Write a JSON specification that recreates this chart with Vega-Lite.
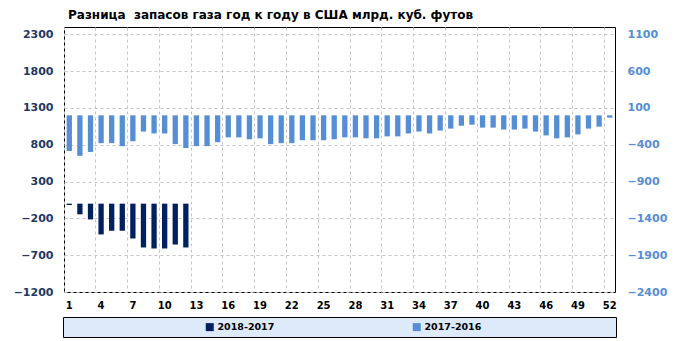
{
  "$schema": "https://vega.github.io/schema/vega-lite/v6.json",
  "width": 551,
  "height": 265,
  "autosize": {"type": "none"},
  "padding": {"left": 64, "top": 27, "right": 67, "bottom": 49},
  "background": "white",
  "title": {
    "text": "Разница\u00a0 запасов газа год к году в США млрд. куб. футов",
    "anchor": "start",
    "frame": "group",
    "dx": 4,
    "offset": -4,
    "baseline": "alphabetic",
    "font": "DejaVu Sans",
    "fontSize": 12,
    "fontWeight": "bold",
    "color": "black"
  },
  "config": {
    "view": {"stroke": "black", "strokeWidth": 1, "fill": "white"},
    "axis": {"labelFont": "DejaVu Sans", "labelFontWeight": "bold", "domain": false, "ticks": false, "labelOverlap": false}
  },
  "data": {
    "values": [
      {"w": 1, "s": "2018-2017", "v": -18},
      {"w": 2, "s": "2018-2017", "v": -145},
      {"w": 3, "s": "2018-2017", "v": -214},
      {"w": 4, "s": "2018-2017", "v": -418},
      {"w": 5, "s": "2018-2017", "v": -368},
      {"w": 6, "s": "2018-2017", "v": -368},
      {"w": 7, "s": "2018-2017", "v": -473},
      {"w": 8, "s": "2018-2017", "v": -595},
      {"w": 9, "s": "2018-2017", "v": -609},
      {"w": 10, "s": "2018-2017", "v": -609},
      {"w": 11, "s": "2018-2017", "v": -555},
      {"w": 12, "s": "2018-2017", "v": -595},
      {"w": 1, "s": "2017-2016", "v": -484},
      {"w": 2, "s": "2017-2016", "v": -550},
      {"w": 3, "s": "2017-2016", "v": -497},
      {"w": 4, "s": "2017-2016", "v": -378},
      {"w": 5, "s": "2017-2016", "v": -378},
      {"w": 6, "s": "2017-2016", "v": -418},
      {"w": 7, "s": "2017-2016", "v": -352},
      {"w": 8, "s": "2017-2016", "v": -220},
      {"w": 9, "s": "2017-2016", "v": -246},
      {"w": 10, "s": "2017-2016", "v": -246},
      {"w": 11, "s": "2017-2016", "v": -391},
      {"w": 12, "s": "2017-2016", "v": -444},
      {"w": 13, "s": "2017-2016", "v": -418},
      {"w": 14, "s": "2017-2016", "v": -418},
      {"w": 15, "s": "2017-2016", "v": -365},
      {"w": 16, "s": "2017-2016", "v": -299},
      {"w": 17, "s": "2017-2016", "v": -299},
      {"w": 18, "s": "2017-2016", "v": -325},
      {"w": 19, "s": "2017-2016", "v": -312},
      {"w": 20, "s": "2017-2016", "v": -391},
      {"w": 21, "s": "2017-2016", "v": -378},
      {"w": 22, "s": "2017-2016", "v": -378},
      {"w": 23, "s": "2017-2016", "v": -338},
      {"w": 24, "s": "2017-2016", "v": -338},
      {"w": 25, "s": "2017-2016", "v": -338},
      {"w": 26, "s": "2017-2016", "v": -325},
      {"w": 27, "s": "2017-2016", "v": -299},
      {"w": 28, "s": "2017-2016", "v": -299},
      {"w": 29, "s": "2017-2016", "v": -312},
      {"w": 30, "s": "2017-2016", "v": -312},
      {"w": 31, "s": "2017-2016", "v": -286},
      {"w": 32, "s": "2017-2016", "v": -286},
      {"w": 33, "s": "2017-2016", "v": -246},
      {"w": 34, "s": "2017-2016", "v": -220},
      {"w": 35, "s": "2017-2016", "v": -246},
      {"w": 36, "s": "2017-2016", "v": -207},
      {"w": 37, "s": "2017-2016", "v": -180},
      {"w": 38, "s": "2017-2016", "v": -141},
      {"w": 39, "s": "2017-2016", "v": -127},
      {"w": 40, "s": "2017-2016", "v": -167},
      {"w": 41, "s": "2017-2016", "v": -167},
      {"w": 42, "s": "2017-2016", "v": -193},
      {"w": 43, "s": "2017-2016", "v": -193},
      {"w": 44, "s": "2017-2016", "v": -180},
      {"w": 45, "s": "2017-2016", "v": -220},
      {"w": 46, "s": "2017-2016", "v": -273},
      {"w": 47, "s": "2017-2016", "v": -312},
      {"w": 48, "s": "2017-2016", "v": -299},
      {"w": 49, "s": "2017-2016", "v": -259},
      {"w": 50, "s": "2017-2016", "v": -180},
      {"w": 51, "s": "2017-2016", "v": -154},
      {"w": 52, "s": "2017-2016", "v": -31}
    ]
  },
  "encoding": {
    "x": {
      "field": "w",
      "type": "ordinal",
      "scale": {"paddingInner": 0, "paddingOuter": 0},
      "axis": {
        "title": null,
        "values": [1, 4, 7, 10, 13, 16, 19, 22, 25, 28, 31, 34, 37, 40, 43, 46, 49, 52],
        "bandPosition": 0,
        "labelAngle": 0,
        "labelFontSize": 10,
        "labelColor": "black",
        "labelPadding": 8,
        "grid": true,
        "gridDash": [3, 3],
        "gridColor": "#c4c4c4"
      }
    },
    "color": {
      "field": "s",
      "type": "nominal",
      "scale": {"domain": ["2018-2017", "2017-2016"], "range": ["#002060", "#558ed5"]},
      "legend": {
        "title": "\u00a0",
        "titleOrient": "right",
        "titlePadding": 130,
        "titleFontSize": 9,
        "orient": "none",
        "direction": "horizontal",
        "legendX": -1,
        "legendY": 290,
        "fillColor": "#dceafa",
        "strokeColor": "black",
        "padding": 5,
        "symbolType": "square",
        "symbolSize": 64,
        "symbolStrokeWidth": 0,
        "symbolOpacity": 1,
        "symbolOffset": 137,
        "columnPadding": 0,
        "labelFont": "DejaVu Sans",
        "labelFontWeight": "bold",
        "labelFontSize": 9.5,
        "labelColor": "black",
        "labelOffset": 3
      }
    }
  },
  "layer": [
    {
      "layer": [
        {
          "transform": [{"filter": "datum.s == '2018-2017'"}],
          "mark": {"type": "bar", "width": {"band": 0.5}}
        },
        {
          "mark": {"type": "rule", "color": "black", "strokeWidth": 1},
          "encoding": {"y": {"datum": 0, "type": "quantitative"}, "color": {"value": "black"}}
        }
      ],
      "encoding": {
        "y": {
          "field": "v",
          "type": "quantitative",
          "scale": {"domain": [-1200, 2400], "nice": false},
          "axis": {
            "title": null,
            "orient": "left",
            "values": [-1200, -700, -200, 300, 800, 1300, 1800, 2300],
            "format": "d",
            "labelFontSize": 11,
            "labelColor": "#1f3864",
            "labelPadding": 11,
            "grid": true,
            "gridDash": [3, 3],
            "gridColor": "#c4c4c4"
          }
        }
      }
    },
    {
      "transform": [{"filter": "datum.s == '2017-2016'"}],
      "mark": {"type": "bar", "width": {"band": 0.5}},
      "encoding": {
        "y": {
          "field": "v",
          "type": "quantitative",
          "scale": {"domain": [-2400, 1200], "nice": false},
          "axis": {
            "title": null,
            "orient": "right",
            "values": [-2400, -1900, -1400, -900, -400, 100, 600, 1100],
            "format": "d",
            "labelFontSize": 11,
            "labelColor": "#558ed5",
            "labelPadding": 12,
            "grid": false
          }
        }
      }
    }
  ],
  "resolve": {"scale": {"y": "independent"}}
}
